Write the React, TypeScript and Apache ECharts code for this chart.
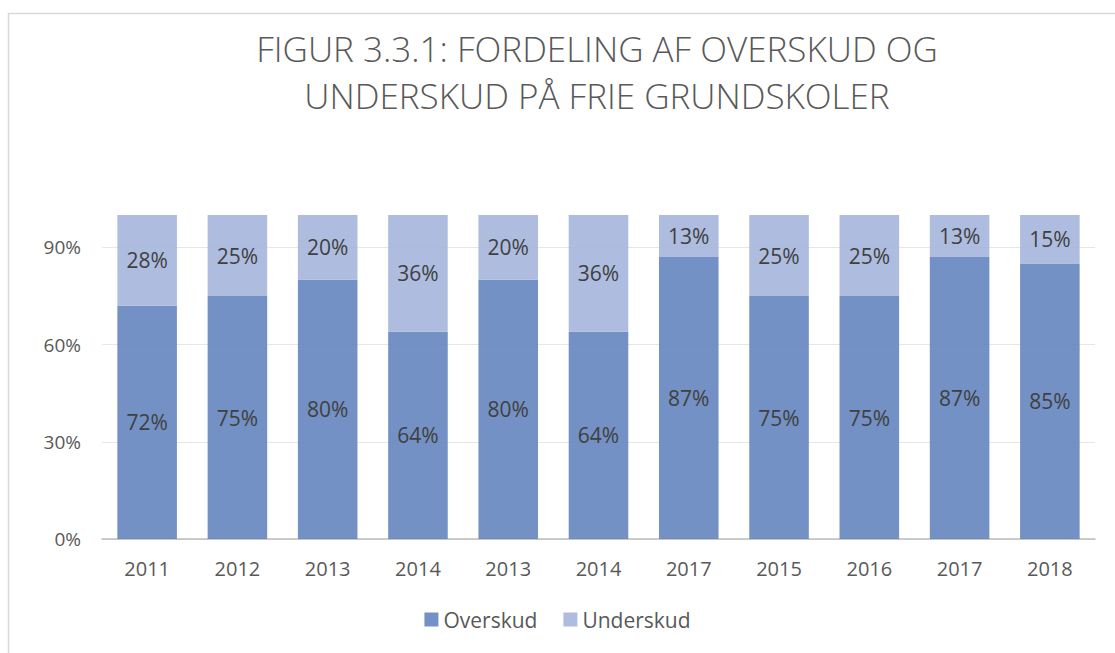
import React, { useEffect, useRef } from "react";
import * as echarts from "echarts";

const categories = ["2011", "2012", "2013", "2014", "2013", "2014", "2017", "2015", "2016", "2017", "2018"];
const overskud = [72, 75, 80, 64, 80, 64, 87, 75, 75, 87, 85];
const underskud = [28, 25, 20, 36, 20, 36, 13, 25, 25, 13, 15];
const titleLines = ["FIGUR 3.3.1: FORDELING AF OVERSKUD OG", "UNDERSKUD PÅ FRIE GRUNDSKOLER"];
const seriesNames = ["Overskud", "Underskud"];

export default function App() {
  const ref = useRef<HTMLDivElement>(null);
  useEffect(() => {
    if (!ref.current) return;
    const chart = echarts.init(ref.current, null, { renderer: "svg" });
    const font = "'Open Sans', sans-serif";
    const labelStyle = {
      show: true,
      position: "inside",
      color: "#404040",
      fontSize: 21,
      fontFamily: font,
      formatter: (p: any) => p.value + "%",
    };
    chart.setOption({
      animation: false,
      backgroundColor: "#fff",
      title: {
        text: titleLines.join("\n"),
        left: 592,
        textAlign: "center",
        top: 20,
        textStyle: {
          fontFamily: font,
          fontWeight: 300,
          fontSize: 35,
          color: "#595959",
          lineHeight: 47,
        },
      },
      graphic: [
        {
          type: "polyline",
          shape: { points: [[8.5, 700], [8.5, 13.5], [1200, 13.5]] },
          style: { stroke: "#d9d9d9", lineWidth: 1.5, fill: null },
          silent: true,
        },
      ],
      legend: {
        bottom: 18,
        left: "center",
        itemWidth: 14,
        itemHeight: 14,
        itemGap: 26,
        icon: "rect",
        textStyle: { fontFamily: font, fontSize: 21, color: "#595959" },
        data: seriesNames,
      },
      grid: { left: 102, right: 20, top: 215, bottom: 114 },
      xAxis: {
        type: "category",
        data: categories,
        axisLine: { lineStyle: { color: "#bfbfbf", width: 1.5 } },
        axisTick: { show: false },
        axisLabel: { fontFamily: font, fontSize: 20, color: "#595959", margin: 19 },
      },
      yAxis: {
        type: "value",
        min: 0,
        max: 100,
        interval: 30,
        axisLine: { show: false },
        axisTick: { show: false },
        axisLabel: {
          fontFamily: font,
          fontSize: 19,
          color: "#595959",
          margin: 21,
          showMaxLabel: false,
          formatter: (v: number) => (v === 100 ? "" : v + "%"),
        },
        splitLine: {
          lineStyle: {
            color: ["#d9d9d9", "#e6e6e6", "#e6e6e6", "#e6e6e6", "rgba(0,0,0,0)"],
            width: 1.2,
          },
        },
      },
      series: [
        {
          name: seriesNames[0],
          type: "bar",
          stack: "total",
          data: overskud,
          barCategoryGap: "34%",
          itemStyle: { color: "rgba(100,133,190,0.9)" },
          label: labelStyle,
        },
        {
          name: seriesNames[1],
          type: "bar",
          stack: "total",
          data: underskud,
          itemStyle: { color: "rgba(165,182,220,0.9)" },
          label: labelStyle,
        },
      ],
    });
    return () => chart.dispose();
  }, []);
  return <div ref={ref} style={{ position: "fixed", left: 0, top: 0, width: 1115, height: 653 }} />;
}
